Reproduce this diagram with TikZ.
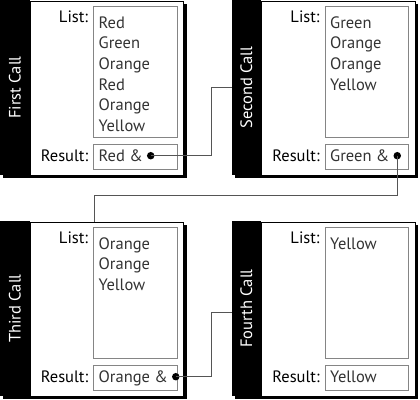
\documentclass[tikz,border=0pt]{standalone}
\usepackage{fontspec}
\setmainfont{PT Sans}
\usetikzlibrary{calc}
\definecolor{itemgray}{HTML}{333333}
\definecolor{boxgray}{HTML}{858585}
\definecolor{linegray}{HTML}{555555}
\tikzset{
  x=1bp, y=-1bp,
  txt/.style={inner sep=0pt, font=\fontsize{16.5bp}{19bp}\selectfont},
  labeltxt/.style={txt, text=black, anchor=base east},
  itemtxt/.style={txt, text=itemgray, anchor=base west},
  titletxt/.style={txt, text=white, rotate=90},
  bandbox/.style={fill=black, draw=none, inner sep=0pt, minimum width=29.5bp, minimum height=174.5bp, anchor=north west},
  whitebox/.style={fill=white, draw=black, line width=0.8bp, inner sep=0pt, minimum width=153.5bp, minimum height=174bp, anchor=north west},
  listbox/.style={draw=boxgray, line width=0.8bp, inner sep=0pt, minimum width=83.5bp, minimum height=131bp, anchor=north west},
  resbox/.style={draw=boxgray, line width=0.8bp, inner sep=0pt, minimum width=83.5bp, minimum height=25bp, anchor=north west},
  dotnode/.style={circle, fill=black, inner sep=0pt, minimum size=7.5bp},
  conn/.style={draw=linegray, line width=0.9bp},
}
% #1 name, #2 x, #3 y, #4 title, #5 items, #6 result
\newcommand\callpanel[6]{%
  \begin{scope}[shift={(#2,#3)}]
    \fill[black] (3.5,3.5) rectangle (186.5,178);
    \node[whitebox] (#1w) at (29.5,0.5) {};
    \node[bandbox] (#1b) at (0,0) {};
    \node[titletxt] (#1t) at (#1b.center) {#4};
    \node[listbox] (#1l) at (93,6) {};
    \node[resbox] (#1rb) at (93,144) {};
    \node[labeltxt] (#1ll) at (88.3,22.7) {List:};
    \node[labeltxt] (#1rl) at (88.3,161.7) {Result:};
    \foreach \it [count=\i] in {#5} {
      \node[itemtxt] (#1i\i) at (98.5,{28.3+(\i-1)*20.6}) {\it};
    }
    \node[itemtxt] (#1r) at (98.5,161.7) {#6};
  \end{scope}}
\begin{document}
\begin{tikzpicture}
  \useasboundingbox (0,0) rectangle (420,400);
  \callpanel{pa}{0}{0}{First Call}{Red,Green,Orange,Red,Orange,Yellow}{Red \&}
  \callpanel{pb}{231.5}{0}{Second Call}{Green,Orange,Orange,Yellow}{Green \&}
  \callpanel{pc}{0}{221}{Third Call}{Orange,Orange,Yellow}{Orange \&}
  \callpanel{pd}{231.5}{221}{Fourth Call}{Yellow}{Yellow}
  \node[dotnode] (da) at ($(par.base east)+(7.7,-6)$) {};
  \node[dotnode] (db) at ($(pbr.base east)+(7.7,-6)$) {};
  \node[dotnode] (dc) at ($(pcr.base east)+(7.7,-6)$) {};
  \coordinate (k1) at (211.7,0);
  \coordinate (k2) at (94,195.7);
  \draw[conn] (da.center) -- (da.center -| k1) |- (pbb.west);
  \draw[conn] (db.center) |- (k2) -- (k2 |- pcw.north);
  \draw[conn] (dc.center) -- (dc.center -| k1) |- ([yshift=-3.5bp]pdb.west);
\end{tikzpicture}
\end{document}
